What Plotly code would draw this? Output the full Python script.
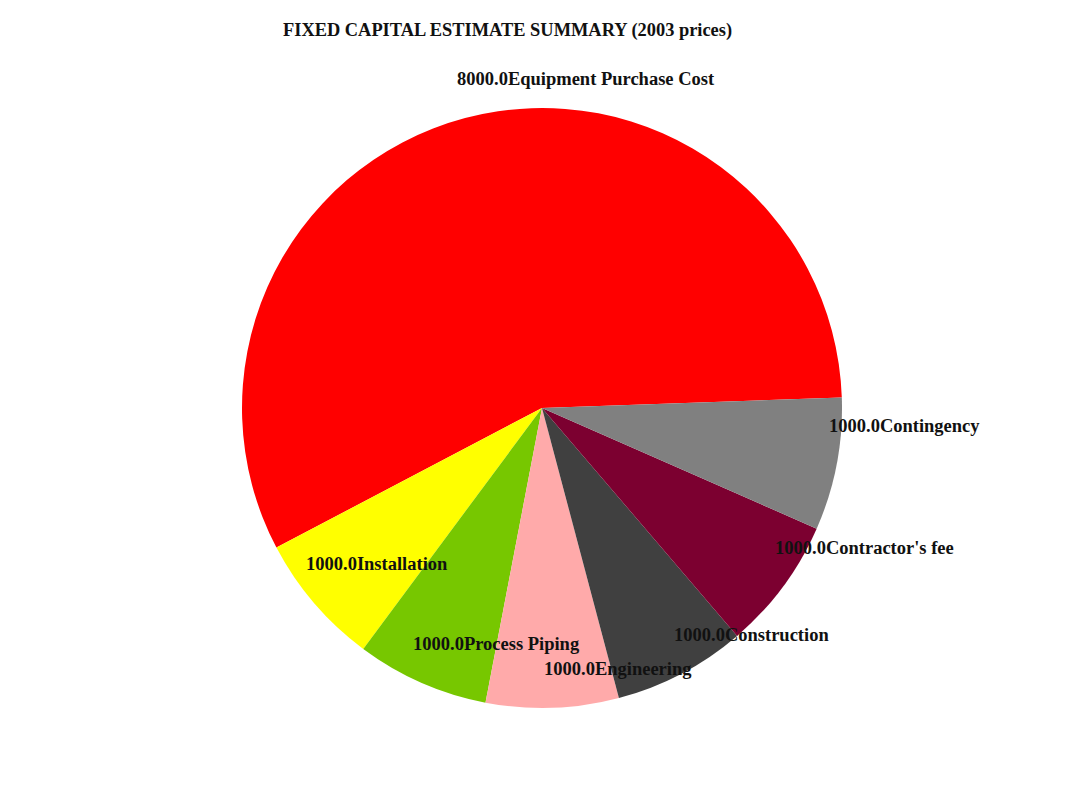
import math
import plotly.graph_objects as go

# ---- data ----
categories = ["Equipment Purchase Cost", "Installation", "Process Piping",
              "Engineering", "Construction", "Contractor's fee", "Contingency"]
values = [8000.0, 1000.0, 1000.0, 1000.0, 1000.0, 1000.0, 1000.0]
colors = ["#FF0000", "#FFFF00", "#77C700", "#FFAAAA", "#404040", "#7C0030", "#808080"]
title_text = "FIXED CAPITAL ESTIMATE SUMMARY (2003 prices)"

# ---- geometry ----
W, H = 1068, 803
cx, cy, R = 542.0, 408.0, 300.0
start_deg = 2.0  # math angle where first slice starts (counterclockwise)
total = sum(values)

# plotly (counterclockwise): first slice occupies [rotation, rotation + its angle] measured clockwise from 12 o'clock
rotation = 90 - start_deg - 360.0 * values[0] / total

fig = go.Figure(go.Pie(
    labels=categories,
    values=values,
    marker=dict(colors=colors, line=dict(width=0)),
    sort=False,
    direction="counterclockwise",
    rotation=rotation,
    textinfo="none",
    hoverinfo="label+value",
    showlegend=False,
    domain=dict(x=[(cx - R) / W, (cx + R) / W],
                y=[1 - (cy + R) / H, 1 - (cy - R) / H]),
))

# labels at each slice's mid-angle, computed from the values
annotations = []
acc = 0.0
for lab, v in zip(categories, values):
    mid = start_deg + 360.0 * (acc + v / 2) / total
    acc += v
    px = cx + R * math.cos(math.radians(mid))
    py = cy - R * math.sin(math.radians(mid))
    annotations.append(dict(
        x=px / W, y=1 - py / H, xref="paper", yref="paper",
        text=f"{v:.1f}{lab}", showarrow=False,
        xanchor="left", yanchor="middle", xshift=-10, yshift=39,
        font=dict(family="Liberation Serif", size=18.5, color="#111111", weight="bold"),
    ))

annotations.append(dict(
    x=507 / W, y=1 - 30 / H, xref="paper", yref="paper",
    text=title_text, showarrow=False, xanchor="center", yanchor="middle",
    font=dict(family="Liberation Serif", size=18.4, color="#111111", weight="bold"),
))

fig.update_layout(
    width=W, height=H,
    margin=dict(l=0, r=0, t=0, b=0),
    paper_bgcolor="white",
    plot_bgcolor="white",
    annotations=annotations,
)

fig.write_html("out.html")
